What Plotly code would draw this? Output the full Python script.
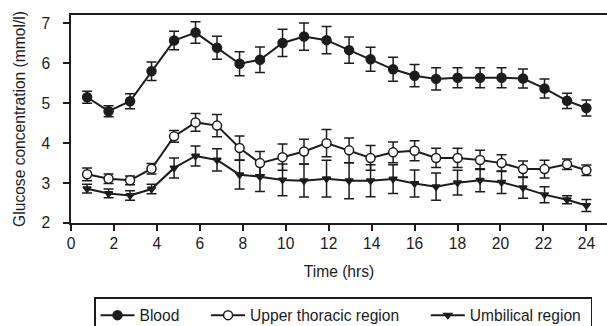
import plotly.graph_objects as go

time_hrs = [0.75, 1.75, 2.75, 3.75, 4.8, 5.8, 6.8, 7.85, 8.8, 9.85, 10.85, 11.9,
            12.95, 13.95, 15.0, 16.0, 17.0, 18.0, 19.05, 20.05, 21.05, 22.05, 23.1, 24.0]

blood = [5.15, 4.80, 5.05, 5.80, 6.57, 6.77, 6.39, 5.99, 6.09, 6.51, 6.67, 6.58,
         6.33, 6.10, 5.85, 5.69, 5.61, 5.64, 5.64, 5.64, 5.62, 5.37, 5.06, 4.88]
blood_err = [0.15, 0.14, 0.19, 0.23, 0.23, 0.27, 0.29, 0.30, 0.32, 0.34, 0.34, 0.34,
             0.33, 0.30, 0.30, 0.28, 0.28, 0.25, 0.25, 0.25, 0.24, 0.24, 0.19, 0.20]

upper = [3.22, 3.11, 3.07, 3.36, 4.17, 4.52, 4.44, 3.88, 3.50, 3.65, 3.79, 4.00,
         3.82, 3.63, 3.77, 3.81, 3.63, 3.63, 3.58, 3.50, 3.35, 3.35, 3.47, 3.32]
upper_err = [0.16, 0.12, 0.11, 0.13, 0.15, 0.22, 0.28, 0.30, 0.29, 0.33, 0.31, 0.34,
             0.31, 0.31, 0.26, 0.25, 0.24, 0.24, 0.24, 0.21, 0.20, 0.22, 0.13, 0.13]

umbilical = [2.86, 2.74, 2.69, 2.85, 3.38, 3.68, 3.58, 3.21, 3.16, 3.08, 3.06, 3.11,
             3.06, 3.06, 3.10, 2.99, 2.91, 3.01, 3.07, 3.02, 2.88, 2.71, 2.58, 2.44]
umbilical_err = [0.11, 0.11, 0.12, 0.12, 0.25, 0.25, 0.28, 0.36, 0.37, 0.40, 0.41, 0.46,
                 0.45, 0.40, 0.36, 0.34, 0.34, 0.31, 0.29, 0.28, 0.26, 0.20, 0.10, 0.15]

series_names = ["Blood", "Upper thoracic region", "Umbilical region"]
x_ticks = list(range(0, 25, 2))
y_ticks = [2, 3, 4, 5, 6, 7]

INK = "#1c1c1c"
FONT = "Liberation Sans, Arial, sans-serif"
FS = 15.6
NB = "\u00a0"

fig = go.Figure()

def add(y, err, name, symbol, fill, size):
    fig.add_trace(go.Scatter(
        x=time_hrs, y=y, name=name, mode="lines+markers",
        line=dict(color=INK, width=2),
        marker=dict(symbol=symbol, size=size, color=fill,
                    line=dict(color=INK, width=1.5)),
        error_y=dict(type="data", array=err, visible=True,
                     color=INK, thickness=1.5, width=5),
    ))

add(umbilical, umbilical_err, series_names[2] + NB, "triangle-down", INK, 7)
add(upper, upper_err, series_names[1] + NB * 5, "circle", "white", 9)
add(blood, blood_err, series_names[0] + NB * 5, "circle", INK, 9)

fig.update_layout(
    width=607, height=326,
    margin=dict(l=71, r=0, t=15, b=103, autoexpand=False),
    paper_bgcolor="white", plot_bgcolor="white",
    font=dict(family=FONT, size=FS, color=INK),
    showlegend=True,
    legend=dict(orientation="h", x=(94 - 71) / 536, xanchor="left",
                y=(223 - 297) / 208, yanchor="top",
                traceorder="reversed", itemwidth=34,
                bordercolor=INK, borderwidth=1.5,
                font=dict(family=FONT, size=FS, color=INK)),
    xaxis=dict(range=[0, 24.96], tickvals=x_ticks, ticktext=[str(v) for v in x_ticks],
               showgrid=False, zeroline=False, automargin=False,
               showline=True, linecolor=INK, linewidth=1.5, mirror=True,
               ticks="outside", ticklen=6, tickwidth=1.5, tickcolor=INK,
               tickfont=dict(size=FS),
               title=dict(text="Time (hrs)", standoff=15, font=dict(size=FS))),
    yaxis=dict(range=[2, 7.21], tickvals=y_ticks, ticktext=[str(v) for v in y_ticks],
               showgrid=False, zeroline=False, automargin=False,
               showline=True, linecolor=INK, linewidth=1.5,
               ticks="outside", ticklen=6, tickwidth=1.5, tickcolor=INK,
               ticklabelstandoff=10, tickfont=dict(size=FS),
               title=dict(text="Glucose concentration (mmol/l)", standoff=12,
                          font=dict(size=FS))),
)

fig.write_html("out.html")
